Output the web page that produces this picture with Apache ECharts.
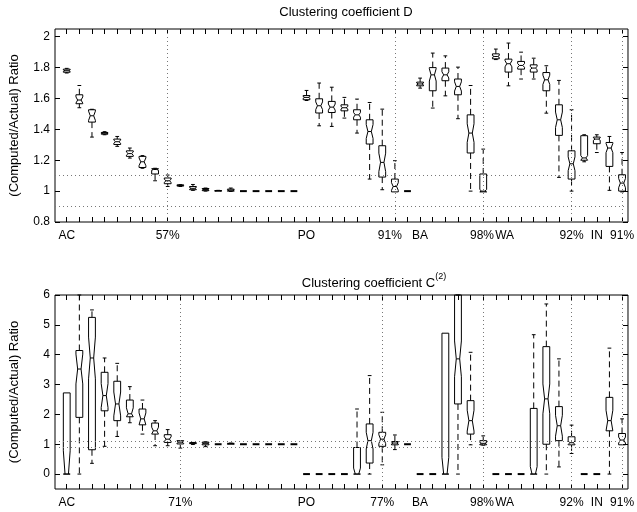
<!DOCTYPE html>
<html><head><meta charset="utf-8">
<script src="https://cdn.jsdelivr.net/npm/echarts@6/dist/echarts.min.js"></script>
<style>html,body{margin:0;padding:0;background:#fff}#c{width:637px;height:512px}</style>
</head><body><div id="c"></div>
<script>
// category positions (one box per position)
const positions = [0,1,2,3,4,5,6,7,8,9,10,11,12,13,14,15,16,17,18,19,20,21,22,23,24,25,26,27,28,29,30,31,32,33,34,35,36,37,38,39,40,41,42,43,44];

// Panel 1: Clustering coefficient D  — [lowWhisker, q1, median, q3, highWhisker]
const boxesD = [
  [1.765,1.77,1.78,1.79,1.795],[1.54,1.566,1.59,1.624,1.684],[1.35,1.447,1.488,1.527,1.53],[1.365,1.369,1.375,1.38,1.385],
  [1.29,1.302,1.32,1.337,1.354],[1.214,1.225,1.243,1.261,1.279],[1.148,1.153,1.19,1.225,1.23],[1.067,1.111,1.14,1.145,1.148],
  [1.03,1.048,1.067,1.085,1.104],[1.03,1.033,1.037,1.04,1.042],[1.005,1.009,1.018,1.03,1.043],[1.0,1.003,1.01,1.017,1.02],
  [1.0,1.0,1.002,1.004,1.005],[0.998,1.0,1.006,1.013,1.02],[1,1,1,1,1],[1,1,1,1,1],[1,1,1,1,1],[1,1,1,1,1],[1,1,1,1,1],
  [1.587,1.592,1.607,1.619,1.652],[1.423,1.506,1.553,1.598,1.70],[1.419,1.509,1.544,1.581,1.673],[1.473,1.52,1.54,1.559,1.607],
  [1.376,1.462,1.494,1.527,1.596],[1.078,1.305,1.386,1.462,1.574],[1.009,1.091,1.186,1.294,1.531],[0.995,0.995,1.03,1.078,1.197],
  [1,1,1,1,1],
  [1.667,1.682,1.694,1.706,1.732],[1.538,1.65,1.753,1.80,1.894],[1.617,1.715,1.753,1.797,1.876],[1.469,1.624,1.678,1.726,1.803],
  [1.0,1.247,1.376,1.494,1.684],[0.995,0.995,1.0,1.111,1.272],
  [1.852,1.857,1.872,1.889,1.92],[1.682,1.771,1.825,1.855,1.959],[1.726,1.79,1.814,1.84,1.90],[1.726,1.771,1.797,1.818,1.861],
  [1.505,1.65,1.721,1.768,1.812],[1.089,1.361,1.462,1.559,1.717],[1.0,1.078,1.177,1.261,1.527],
  [1.19,1.2,1.215,1.359,1.365],[1.25,1.307,1.337,1.35,1.365],[1.005,1.16,1.279,1.315,1.354],[0.995,1.0,1.052,1.106,1.25]
];
// notch half-heights
const notchD = [0.005,0.02,0.03,0.003,0.01,0.01,0.025,0.005,0.01,0.002,0.006,0.004,0.001,0.004,0,0,0,0,0,
  0.006,0.025,0.02,0.008,0.015,0.045,0.06,0.025,0,
  0.006,0.04,0.02,0.03,0.06,0.01,
  0.006,0.02,0.012,0.01,0.03,0.05,0.045,
  0.015,0.008,0.03,0.03];

// Panel 2: Clustering coefficient C(2)
const boxesC = [
  [0,0,0,2.72,2.72],[0,1.9,3.52,4.14,6.5],[0.36,0.815,3.89,5.25,5.5],[0.93,2.12,2.63,3.41,3.89],
  [1.26,1.79,2.35,3.11,3.71],[1.72,1.92,2.02,2.48,2.93],[1.34,1.65,1.85,2.18,2.48],[0.95,1.34,1.45,1.71,1.79],
  [0.95,1.06,1.17,1.32,1.49],[0.87,1.01,1.07,1.12,1.12],[0.99,1.02,1.04,1.05,1.06],[0.92,0.98,1.03,1.07,1.08],
  [1,1,1,1,1],[1.0,1.0,1.02,1.03,1.04],[1,1,1,1,1],[1,1,1,1,1],[1,1,1,1,1],[1,1,1,1,1],[1,1,1,1,1],
  [0,0,0,0,0],[0,0,0,0,0],[0,0,0,0,0],[0,0,0,0,0],
  [0,0,0,0.89,2.18],[0,0.37,1.12,1.68,3.3],[0.31,0.93,1.17,1.4,2.07],[0.82,0.98,1.04,1.09,1.31],[1,1,1,1,1],
  [0,0,0,0,0],[0,0,0,0,0],[0,0,0,4.72,4.72],[0,2.35,3.86,6.3,7.0],[0.98,1.34,1.79,2.46,4.08],[0.97,0.98,1.03,1.12,1.28],
  [0,0,0,0,0],[0,0,0,0,0],[0,0,0,0,0],[0,0,0,2.2,4.67],[0,1.0,2.52,4.27,5.7],[0.24,1.12,1.62,2.26,3.86],[0.69,0.98,1.05,1.25,1.64],
  [0,0,0,0,0],[0,0,0,0,0],[0,1.45,1.79,2.57,4.22],[0.98,0.98,1.14,1.36,1.85]
];
const notchC = [0.78,0.5,0.7,0.4,0.4,0.2,0.2,0.12,0.08,0.04,0.01,0.02,0,0.01,0,0,0,0,0,
  0,0,0,0,0.2,0.28,0.15,0.03,0,
  0,0,0.56,0.6,0.35,0.03,
  0,0,0,0.25,0.5,0.35,0.06,
  0,0,0.35,0.1];

// tick labels
const labelPosD = [0, 8, 19, 25.6, 28, 32.9, 34.7, 40, 42, 44];
const labelsD = ['AC','57%','PO','91%','BA','98%','WA','92%','IN','91%'];
const labelPosC = [0, 9, 19, 25, 28, 32.9, 34.7, 40, 42, 44];
const labelsC = ['AC','71%','PO','77%','BA','98%','WA','92%','IN','91%'];
const yTicksD = [0.8, 1, 1.2, 1.4, 1.6, 1.8, 2];
const yTicksC = [0, 1, 2, 3, 4, 5, 6];
// dotted reference lines
const vLinesD = [8, 26, 33, 40, 44];
const vLinesC = [9, 25, 33, 40, 44];
const hLines = [0.9, 1.1];

const FONT = 'Liberation Sans, Arial, Helvetica, sans-serif';
const XMIN = -0.93, XMAX = 44.47;

function renderBox(params, api) {
  const cs = params.coordSys;
  const x = api.value(0);
  const lo = api.value(1), q1 = api.value(2), med = api.value(3), q3 = api.value(4), hi = api.value(5), nh = api.value(6);
  const nlo = Math.max(med - nh, q1), nhi = Math.min(med + nh, q3);
  const top = cs.y, bot = cs.y + cs.height;
  const cl = p => Math.min(Math.max(p, top), bot);
  const Y = v => cl(api.coord([x, v])[1]);
  const px = api.coord([x, med])[0];
  const unit = api.size([1, 0])[0];
  const w = unit * 0.27, wn = w * 0.5, wc = w * 0.55;
  const stroke = {stroke: '#000', lineWidth: 1, fill: null};
  const dashed = {stroke: '#000', lineWidth: 1, lineDash: [6, 4], fill: null};
  const children = [];
  if (q3 === q1) {
    children.push({type: 'line', shape: {x1: px - w, y1: Y(med), x2: px + w, y2: Y(med)}, style: {stroke: '#000', lineWidth: 2}});
  } else {
    children.push({type: 'polygon', shape: {points: [
      [px - w, Y(q1)], [px - w, Y(nlo)], [px - wn, Y(med)], [px - w, Y(nhi)], [px - w, Y(q3)],
      [px + w, Y(q3)], [px + w, Y(nhi)], [px + wn, Y(med)], [px + w, Y(nlo)], [px + w, Y(q1)]
    ]}, style: stroke});
    children.push({type: 'line', shape: {x1: px - wn, y1: Y(med), x2: px + wn, y2: Y(med)}, style: stroke});
  }
  if (hi > q3) {
    children.push({type: 'line', shape: {x1: px, y1: Y(q3), x2: px, y2: Y(hi)}, style: dashed});
    children.push({type: 'line', shape: {x1: px - wc, y1: Y(hi), x2: px + wc, y2: Y(hi)}, style: stroke});
  }
  if (lo < q1) {
    children.push({type: 'line', shape: {x1: px, y1: Y(q1), x2: px, y2: Y(lo)}, style: dashed});
    children.push({type: 'line', shape: {x1: px - wc, y1: Y(lo), x2: px + wc, y2: Y(lo)}, style: stroke});
  }
  return {type: 'group', children};
}

function xAxes(grid, labelPos, labels) {
  return [
    {type: 'value', gridIndex: grid, position: 'bottom', min: XMIN, max: XMAX,
     splitLine: {show: false}, axisLine: {show: false, onZero: false},
     axisTick: {show: true, inside: true, length: 5, customValues: positions, lineStyle: {color: '#000'}},
     axisLabel: {show: true, customValues: labelPos, margin: 8, color: '#000', fontSize: 12, fontFamily: FONT,
       formatter: v => { const i = labelPos.findIndex(p => Math.abs(p - v) < 1e-6); return i >= 0 ? labels[i] : ''; }}},
    {type: 'value', gridIndex: grid, position: 'top', min: XMIN, max: XMAX,
     splitLine: {show: false}, axisLine: {show: false, onZero: false},
     axisTick: {show: true, inside: true, length: 5, customValues: positions, lineStyle: {color: '#000'}},
     axisLabel: {show: false}}
  ];
}
function yAxes(grid, min, max, ticks) {
  return [
    {type: 'value', gridIndex: grid, position: 'left', min, max,
     name: '(Computed/Actual) Ratio', nameLocation: 'middle', nameGap: 34, nameRotate: 90,
     nameTextStyle: {fontSize: 13, color: '#000', fontFamily: FONT},
     splitLine: {show: false}, axisLine: {show: false, onZero: false},
     axisTick: {show: true, inside: true, length: 5, customValues: ticks, lineStyle: {color: '#000'}},
     axisLabel: {show: true, customValues: ticks, margin: 5, color: '#000', fontSize: 12, fontFamily: FONT}},
    {type: 'value', gridIndex: grid, position: 'right', min, max,
     splitLine: {show: false}, axisLine: {show: false, onZero: false},
     axisTick: {show: true, inside: true, length: 5, customValues: ticks, lineStyle: {color: '#000'}},
     axisLabel: {show: false}}
  ];
}
function refSeries(xi, yi, vLines) {
  return {type: 'line', xAxisIndex: xi, yAxisIndex: yi, data: [], silent: true, symbol: 'none',
    markLine: {silent: true, symbol: ['none', 'none'], label: {show: false}, animation: false,
      lineStyle: {color: '#777', width: 1, type: [1, 3]},
      data: vLines.map(v => ({xAxis: v})).concat(hLines.map(v => ({yAxis: v})))}};
}

const chart = echarts.init(document.getElementById('c'), null, {renderer: 'canvas'});
chart.setOption({
  animation: false,
  backgroundColor: '#fff',
  title: [
    {text: 'Clustering coefficient D', left: 341, top: 1, textAlign: 'center',
     textStyle: {fontSize: 13, fontWeight: 'normal', color: '#000', fontFamily: FONT}},
    {text: '{m|Clustering coefficient C}{sup|(2)}', left: 369, top: 267, textAlign: 'center',
     textStyle: {fontSize: 13, fontWeight: 'normal', color: '#000', fontFamily: FONT,
       rich: {m: {fontSize: 13, lineHeight: 18, verticalAlign: 'bottom', color: '#000', fontFamily: FONT},
              sup: {fontSize: 9, lineHeight: 18, verticalAlign: 'top', color: '#000', fontFamily: FONT}}}}
  ],
  grid: [
    {left: 49, top: 29, width: 583, height: 193, show: true, borderColor: '#000', borderWidth: 1, backgroundColor: 'transparent'},
    {left: 49, top: 295, width: 583, height: 194, show: true, borderColor: '#000', borderWidth: 1, backgroundColor: 'transparent'}
  ],
  xAxis: xAxes(0, labelPosD, labelsD).concat(xAxes(1, labelPosC, labelsC)),
  yAxis: yAxes(0, 0.8, 2.05, yTicksD).concat(yAxes(1, -0.5, 6, yTicksC)),
  series: [
    refSeries(0, 0, vLinesD),
    refSeries(2, 2, vLinesC),
    {type: 'custom', xAxisIndex: 0, yAxisIndex: 0, renderItem: renderBox, silent: true,
     encode: {x: 0, y: [1, 2, 3, 4, 5]},
     data: boxesD.map((b, i) => [positions[i]].concat(b, [notchD[i]]))},
    {type: 'custom', xAxisIndex: 2, yAxisIndex: 2, renderItem: renderBox, silent: true,
     encode: {x: 0, y: [1, 2, 3, 4, 5]},
     data: boxesC.map((b, i) => [positions[i]].concat(b, [notchC[i]]))}
  ]
});
</script></body></html>
